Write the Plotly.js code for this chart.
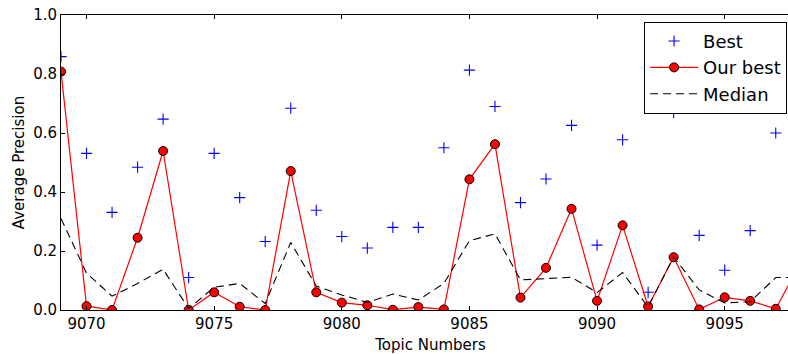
<!DOCTYPE html>
<html>
<head>
<meta charset="utf-8">
<script src="https://cdn.plot.ly/plotly-3.0.1.min.js"></script>
<style>
html, body { margin: 0; padding: 0; overflow: hidden; background: #fff; }
#chart { width: 800px; height: 354px; }
</style>
</head>
<body>
<div id="chart"></div>
<script>
const topics = [9069, 9070, 9071, 9072, 9073, 9074, 9075, 9076, 9077, 9078,
                9079, 9080, 9081, 9082, 9083, 9084, 9085, 9086, 9087, 9088,
                9089, 9090, 9091, 9092, 9093, 9094, 9095, 9096, 9097, 9098];
const bestValues = [0.859, 0.531, 0.331, 0.484, 0.647, 0.110, 0.531, 0.381, 0.232, 0.684,
                    0.338, 0.249, 0.210, 0.280, 0.280, 0.550, 0.813, 0.690, 0.364, 0.444,
                    0.626, 0.220, 0.577, 0.060, 0.669, 0.253, 0.135, 0.269, 0.600, 0.45];
const ourBestValues = [0.808, 0.013, 0.000, 0.245, 0.539, 0.000, 0.060, 0.011, 0.000, 0.471,
                       0.060, 0.025, 0.016, 0.001, 0.010, 0.002, 0.443, 0.562, 0.042, 0.143,
                       0.343, 0.031, 0.287, 0.012, 0.179, 0.002, 0.043, 0.031, 0.004, 0.165];
const medianValues = [0.310, 0.125, 0.047, 0.090, 0.138, 0.005, 0.077, 0.090, 0.022, 0.229,
                      0.081, 0.051, 0.026, 0.054, 0.034, 0.090, 0.235, 0.258, 0.102, 0.106,
                      0.111, 0.059, 0.127, 0.010, 0.180, 0.068, 0.024, 0.028, 0.110, 0.110];
const xTicks = [9070, 9075, 9080, 9085, 9090, 9095];
const yTicks = [0.0, 0.2, 0.4, 0.6, 0.8, 1.0];

const font = "DejaVu Sans, sans-serif";

const traces = [
  {
    x: topics, y: bestValues, name: "Best", type: "scatter", mode: "markers",
    marker: { symbol: "cross-thin", size: 8, color: "#0000ff", line: { color: "#0000ff", width: 1.1 } }
  },
  {
    x: topics, y: ourBestValues, name: "Our best", type: "scatter", mode: "lines+markers",
    line: { color: "#ff0000", width: 1.2 },
    marker: { symbol: "circle", size: 9, color: "#ff0000", line: { color: "#000000", width: 1 } }
  },
  {
    x: topics, y: medianValues, name: "Median", type: "scatter", mode: "lines",
    line: { color: "#000000", width: 1.1, dash: "8px,5px" }
  }
];

const layout = {
  width: 800, height: 354,
  margin: { l: 61, r: 0, t: 15, b: 44 },
  paper_bgcolor: "#ffffff", plot_bgcolor: "#ffffff",
  font: { family: font, size: 15, color: "#000000" },
  showlegend: true,
  legend: {
    x: 0.789, y: 0.977, xanchor: "left", yanchor: "top",
    bgcolor: "#ffffff", bordercolor: "#000000", borderwidth: 1,
    font: { family: font, size: 18, color: "#000000" },
    itemwidth: 48,
    tracegroupgap: 0
  },
  xaxis: {
    range: [9069, 9097.95],
    tickvals: xTicks, ticktext: xTicks.map(String),
    ticks: "inside", ticklen: 4, tickwidth: 1, tickcolor: "#000",
    showline: true, linecolor: "#000", linewidth: 1, mirror: "ticks",
    showgrid: false, zeroline: false,
    tickfont: { family: font, size: 15 },
    title: { text: "Topic Numbers", font: { family: font, size: 15 }, standoff: 10 }
  },
  yaxis: {
    range: [0, 1.0],
    tickvals: yTicks, ticktext: yTicks.map(v => v.toFixed(1)),
    ticks: "inside", ticklen: 4, tickwidth: 1, tickcolor: "#000",
    showline: true, linecolor: "#000", linewidth: 1, mirror: "ticks",
    showgrid: false, zeroline: false,
    tickfont: { family: font, size: 15 },
    title: { text: "Average Precision", font: { family: font, size: 15 }, standoff: 4 }
  }
};

Plotly.newPlot("chart", traces, layout, { displayModeBar: false, staticPlot: true });
</script>
</body>
</html>
